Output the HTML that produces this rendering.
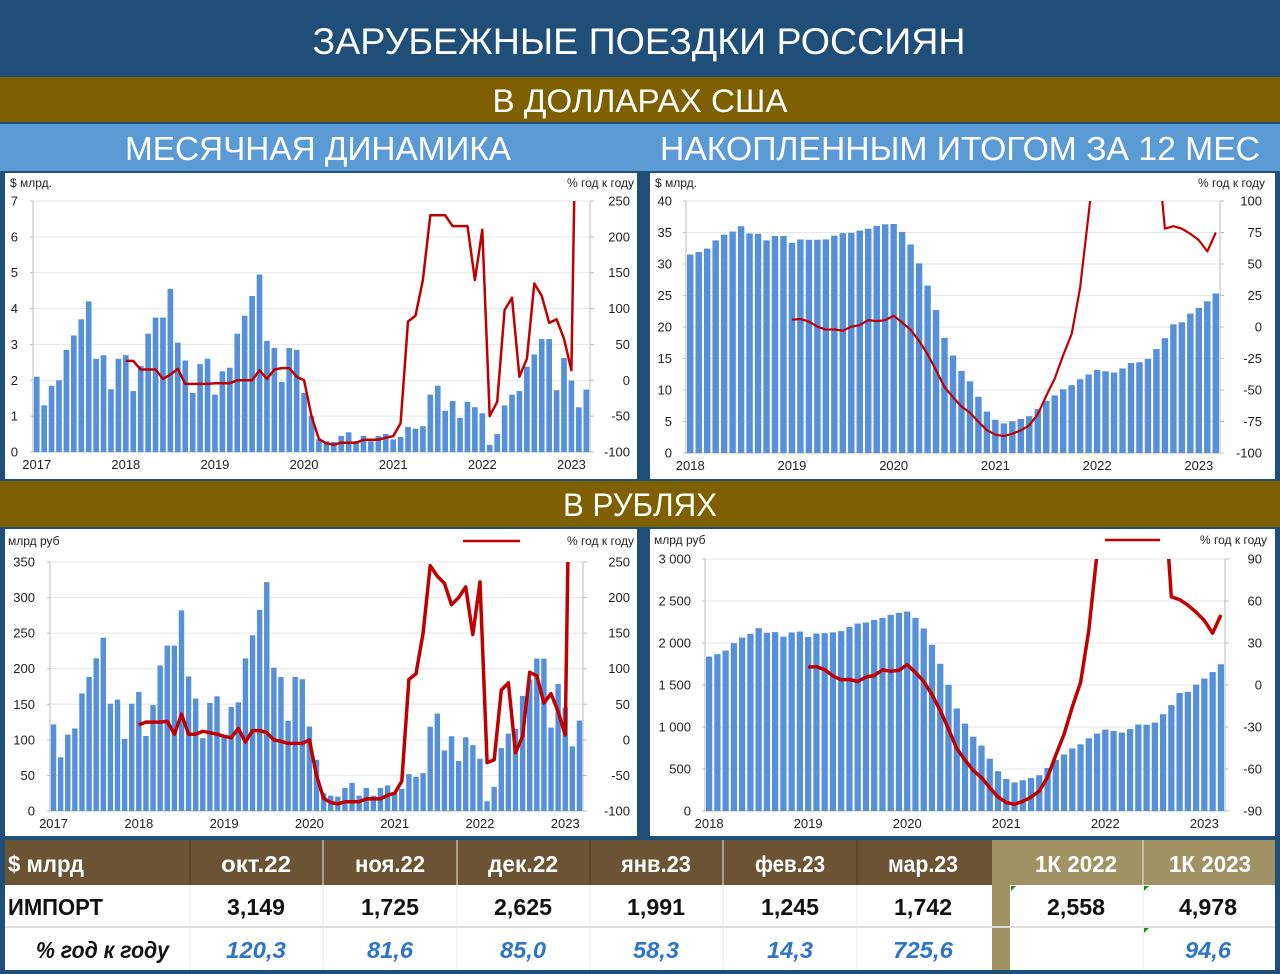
<!DOCTYPE html>
<html><head><meta charset="utf-8"><style>
html,body{margin:0;padding:0;background:#1f4e79;}
svg{display:block;font-family:"Liberation Sans",sans-serif;}
</style></head><body>
<svg id="s" width="1280" height="974" viewBox="0 0 1280 974" xmlns="http://www.w3.org/2000/svg">
<rect x="0" y="0" width="1280" height="974" fill="#1f4e79"/>
<text x="639" y="54" font-size="37" fill="#fff" text-anchor="middle" textLength="653" lengthAdjust="spacingAndGlyphs">ЗАРУБЕЖНЫЕ ПОЕЗДКИ РОССИЯН</text>
<rect x="0" y="77" width="1280" height="45" fill="#7f6000"/>
<text x="640" y="112" font-size="32" fill="#fff" text-anchor="middle" textLength="295" lengthAdjust="spacingAndGlyphs">В ДОЛЛАРАХ США</text>
<rect x="0" y="124" width="1280" height="47" fill="#5b9bd5"/>
<text x="318" y="160" font-size="33" fill="#fff" text-anchor="middle" textLength="386" lengthAdjust="spacingAndGlyphs">МЕСЯЧНАЯ ДИНАМИКА</text>
<text x="960" y="160" font-size="33" fill="#fff" text-anchor="middle" textLength="600" lengthAdjust="spacingAndGlyphs">НАКОПЛЕННЫМ ИТОГОМ ЗА 12 МЕС</text>
<rect x="5" y="173" width="632" height="306" fill="#fff"/>
<rect x="650" y="173" width="625" height="306" fill="#fff"/>
<rect x="0" y="481" width="1280" height="46" fill="#7f6000"/>
<text x="640" y="516" font-size="32" fill="#fff" text-anchor="middle" textLength="154" lengthAdjust="spacingAndGlyphs">В РУБЛЯХ</text>
<rect x="5" y="529" width="632" height="307" fill="#fff"/>
<rect x="650" y="529" width="625" height="307" fill="#fff"/>
<g id="charts"></g>
<g id="table"></g>
</svg>
<script>
var NS="http://www.w3.org/2000/svg";
function el(p,t,a,txt){var e=document.createElementNS(NS,t);for(var k in a)e.setAttribute(k,a[k]);if(txt!==undefined)e.textContent=txt;p.appendChild(e);return e;}
var G=document.getElementById('charts');
var usd=[2.1,1.3,1.85,2.0,2.85,3.25,3.7,4.2,2.6,2.7,1.75,2.6,
2.7,1.7,2.4,3.3,3.75,3.75,4.55,3.05,2.55,1.65,2.45,2.6,
1.6,2.25,2.35,3.3,3.8,4.35,4.95,3.1,2.9,1.95,2.9,2.85,
1.65,1.0,0.35,0.3,0.28,0.45,0.55,0.3,0.45,0.3,0.45,0.5,
0.35,0.42,0.7,0.65,0.72,1.6,1.85,1.15,1.42,0.95,1.4,1.25,
1.08,0.2,0.5,1.3,1.6,1.7,2.38,2.72,3.15,1.72,2.62,1.99,
1.245,1.742];
while(usd.length<75)usd.push(1.74);
usd=usd.slice(0,75);
usd[69]=3.149;usd[70]=1.725;usd[71]=2.625;usd[72]=1.991;usd[73]=1.245;usd[74]=1.742;
usd[66]=2.38;usd[67]=2.72;usd[68]=3.15;
var yoy1=[null,null,null,null,null,null,null,null,null,null,null,null,
27,27,15,15,15,2,8,16,-5,-5,-5,-5,
-4,-4,-4,0,0,0,14,2,15,17,17,5,
0,-50,-82,-88,-90,-87,-87,-87,-83,-83,-83,-80,
-78,-60,82,90,140,230,230,230,215,215,215,140,
210,-50,-30,98,115,5,30,135,118,80,85,58,
14,725,725];
var yoy2=[null,null,null,null,null,null,null,null,null,null,null,null,
21,25,25,25,26,8,36,8,8,12,10,8,
5,3,16,-3,13,13,10,0,-2,-5,-5,-5,
0,-50,-82,-88,-90,-87,-87,-87,-83,-83,-83,-78,
-75,-58,85,93,150,245,230,220,190,200,215,148,
222,-32,-28,70,80,-18,5,95,90,52,65,40,
7,725,725];
function rate(i){var y=Math.floor(i/12);return [58,62,65,72,74,68,73][y];}
var rub=usd.map(function(v,i){return v*rate(i);});
function roll(a){var r=[];for(var i=12;i<a.length;i++){var s=0;for(var j=i-11;j<=i;j++)s+=a[j];r.push(s);}return r;}
var rU=roll(usd), rR=roll(rub);
function ryoy(r){return r.map(function(v,i){return i>=12?(v/r[i-12]-1)*100:null;});}
var rUy=ryoy(rU), rRy=ryoy(rR);
var ovU=[300,200,150,78,80,78,74,69,60,75];
for(var k=0;k<ovU.length;k++)rUy[rUy.length-ovU.length+k]=ovU[k];
var ovR=[300,200,150,63,61,57,52,46,37,50];
for(var k=0;k<ovR.length;k++)rRy[rRy.length-ovR.length+k]=ovR[k];
var cid=0;
function chart(o){
  var g=el(G,'g',{});
  var n=o.bars.length, w=(o.x1-o.x0)/n;
  var ly=function(v){return o.yb-(v/o.lmax)*(o.yb-o.yt);};
  var ry=function(v){return o.yb-(v-o.rmin)/(o.rmax-o.rmin)*(o.yb-o.yt);};
  for(var t=0;t<=o.lmax+1e-9;t+=o.lstep){var y=ly(t);
    if(t>0)el(g,'line',{x1:o.x0,x2:o.x1,y1:y,y2:y,stroke:'#e6e6e6','stroke-width':1});
    el(g,'text',{x:o.lx,y:y+4.5,'font-size':13,fill:'#222','text-anchor':'end'},o.lfmt(t));
    el(g,'line',{x1:o.x0-3,x2:o.x0,y1:y,y2:y,stroke:'#bbb'});
  }
  for(var t=o.rmin;t<=o.rmax+1e-9;t+=o.rstep){var y=ry(t);
    el(g,'text',{x:o.rx,y:y+4.5,'font-size':13,fill:'#222','text-anchor':'end'},String(t));
    el(g,'line',{x1:o.x1,x2:o.x1+4,y1:y,y2:y,stroke:'#bbb'});
  }
  el(g,'line',{x1:o.x0,x2:o.x0,y1:o.yt,y2:o.yb,stroke:'#bbb'});
  el(g,'line',{x1:o.x1,x2:o.x1,y1:o.yt,y2:o.yb,stroke:'#bbb'});
  el(g,'line',{x1:o.x0,x2:o.x1,y1:o.yb,y2:o.yb,stroke:'#bbb'});
  for(var i=0;i<n;i++){var x=o.x0+i*w+w*0.12,h=o.yb-ly(o.bars[i]);
    el(g,'rect',{x:x,y:ly(o.bars[i]),width:w*0.76,height:h,fill:'#5590d9'});
    if(i%12==0)el(g,'text',{x:o.x0+(i+0.5)*w,y:o.yb+17,'font-size':13,fill:'#222','text-anchor':'middle'},String(o.year+i/12));
  }
  cid++;
  var cp=el(g,'clipPath',{id:'c'+cid});el(cp,'rect',{x:o.x0-5,y:o.yt,width:o.x1-o.x0+10,height:o.yb-o.yt+10});
  var d='',st=false;
  for(var i=0;i<o.line.length;i++){var v=o.line[i];if(v===null||v===undefined){st=false;continue;}
    var x=o.x0+(i+0.5+o.loff)*w, y=ry(Math.min(v,o.rmax+400));
    d+=(st?'L':'M')+x.toFixed(1)+' '+y.toFixed(1);st=true;}
  el(g,'path',{d:d,fill:'none',stroke:'#c00000','stroke-width':o.lw,'stroke-linejoin':'round','clip-path':'url(#c'+cid+')'});
  el(g,'text',{x:o.tlx,y:o.tly,'font-size':12,fill:'#222'},o.ltitle);
  el(g,'text',{x:o.trx,y:o.tly,'font-size':12,fill:'#222','text-anchor':'end'},'% год к году');
  if(o.leg)el(g,'line',{x1:o.leg[0],x2:o.leg[1],y1:o.tly-4,y2:o.tly-4,stroke:'#c00000','stroke-width':2.5});
}
var id=function(t){return String(t);};
var sp=function(t){return t>=1000?String(t).replace(/(\d)(\d{3})$/,'$1 $2'):String(t);};
chart({x0:33,x1:590,yt:201,yb:452,lmax:7,lstep:1,rmin:-100,rmax:250,rstep:50,lx:18,rx:630,bars:usd,line:yoy1,loff:0,year:2017,lw:2.5,lfmt:id,ltitle:'$ млрд.',tlx:10,trx:634,tly:187});
chart({x0:686,x1:1220,yt:201,yb:453,lmax:40,lstep:5,rmin:-100,rmax:100,rstep:25,lx:672,rx:1262,bars:rU,line:rUy,loff:0,year:2018,lw:2.2,lfmt:id,ltitle:'$ млрд.',tlx:655,trx:1265,tly:187});
chart({x0:50,x1:583,yt:562,yb:811,lmax:350,lstep:50,rmin:-100,rmax:250,rstep:50,lx:35,rx:630,bars:rub,line:yoy2,loff:0,year:2017,lw:3.5,lfmt:id,ltitle:'млрд руб',tlx:8,trx:634,tly:545,leg:[463,520]});
chart({x0:705,x1:1225,yt:559,yb:811,lmax:3000,lstep:500,rmin:-90,rmax:90,rstep:30,lx:691,rx:1262,bars:rR,line:rRy,loff:0,year:2018,lw:3.5,lfmt:sp,ltitle:'млрд руб',tlx:654,trx:1267,tly:544,leg:[1105,1160]});
var T=document.getElementById('table');
el(T,'rect',{x:5,y:840,width:987,height:45,fill:'#6a5434'});
el(T,'rect',{x:992,y:840,width:283,height:45,fill:'#a09262'});
el(T,'rect',{x:5,y:885,width:1270,height:85,fill:'#fff'});
el(T,'rect',{x:992,y:885,width:18,height:85,fill:'#a09262'});
el(T,'line',{x1:5,x2:1275,y1:927,y2:927,stroke:'#ddd','stroke-width':2});
[190,323,457,590,723,857,1143].forEach(function(x){el(T,'line',{x1:x,x2:x,y1:840,y2:970,stroke:'#e8e8e8','stroke-width':1});});
[190,590,857].forEach(function(x){el(T,'line',{x1:x,x2:x,y1:840,y2:885,stroke:'#5a4628','stroke-width':2});});
var hdr=['окт.22','ноя.22','дек.22','янв.23','фев.23','мар.23'];
var r1=['3,149','1,725','2,625','1,991','1,245','1,742'];
var r2=['120,3','81,6','85,0','58,3','14,3','725,6'];
var cx=[256,390,523,656,790,923];
function tx(x,y,s,a){var e=el(T,'text',a,s);e.setAttribute('x',x);e.setAttribute('y',y);return e;}
tx(8,872,'$ млрд',{'font-size':23,fill:'#fff','font-weight':'bold',textLength:76,lengthAdjust:'spacingAndGlyphs'});
for(var i=0;i<6;i++){
 tx(cx[i],872,hdr[i],{'font-size':23,fill:'#fff','font-weight':'bold','text-anchor':'middle',textLength:70,lengthAdjust:'spacingAndGlyphs'});
 tx(cx[i],915,r1[i],{'font-size':23,fill:'#111','font-weight':'bold','text-anchor':'middle',textLength:58,lengthAdjust:'spacingAndGlyphs'});
 tx(cx[i],958,r2[i],{'font-size':23,fill:'#2e75c6','font-weight':'bold','font-style':'italic','text-anchor':'middle',textLength:r2[i].length>4?60:46,lengthAdjust:'spacingAndGlyphs'});
}
tx(1076,872,'1К 2022',{'font-size':23,fill:'#fff','font-weight':'bold','text-anchor':'middle',textLength:82,lengthAdjust:'spacingAndGlyphs'});
tx(1210,872,'1К 2023',{'font-size':23,fill:'#fff','font-weight':'bold','text-anchor':'middle',textLength:82,lengthAdjust:'spacingAndGlyphs'});
tx(8,915,'ИМПОРТ',{'font-size':23,fill:'#111','font-weight':'bold',textLength:95,lengthAdjust:'spacingAndGlyphs'});
tx(1076,915,'2,558',{'font-size':23,fill:'#111','font-weight':'bold','text-anchor':'middle',textLength:58,lengthAdjust:'spacingAndGlyphs'});
tx(1208,915,'4,978',{'font-size':23,fill:'#111','font-weight':'bold','text-anchor':'middle',textLength:58,lengthAdjust:'spacingAndGlyphs'});
tx(36,958,'% год к году',{'font-size':23,fill:'#111','font-weight':'bold','font-style':'italic',textLength:133,lengthAdjust:'spacingAndGlyphs'});
tx(1208,958,'94,6',{'font-size':23,fill:'#2e75c6','font-weight':'bold','font-style':'italic','text-anchor':'middle',textLength:46,lengthAdjust:'spacingAndGlyphs'});
el(T,'path',{d:'M1011 886 l5 0 l-5 5z',fill:'#1a8a1a'});
el(T,'path',{d:'M1144 886 l5 0 l-5 5z',fill:'#1a8a1a'});
el(T,'path',{d:'M1144 928 l5 0 l-5 5z',fill:'#1a8a1a'});
</script>
</body></html>
